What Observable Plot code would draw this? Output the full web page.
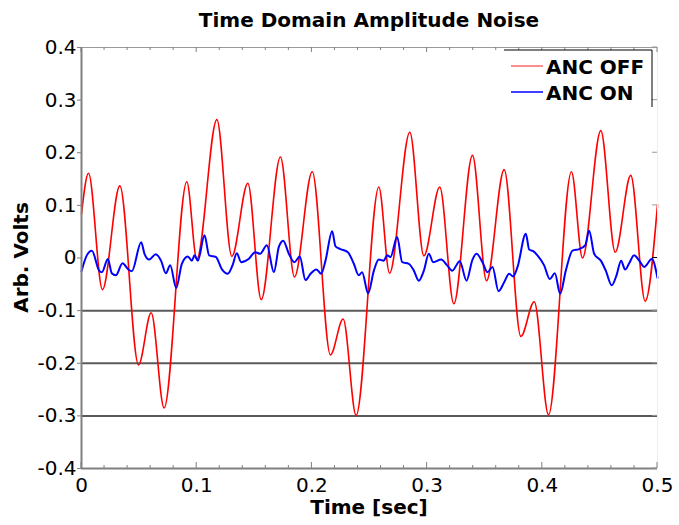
<!DOCTYPE html>
<html>
<head>
<meta charset="utf-8">
<script src="https://cdn.jsdelivr.net/npm/d3@7"></script>
<script src="https://cdn.jsdelivr.net/npm/@observablehq/plot@0.6"></script>
<style>
  body { margin: 0; background: #fff; }
  #chart { width: 679px; height: 525px; }
</style>
</head>
<body>
<div id="chart"></div>
<script>
// ---- data ----
const chartTitle = "Time Domain Amplitude Noise";
const xLabel = "Time [sec]";
const yLabel = "Arb. Volts";
const seriesNames = ["ANC OFF", "ANC ON"];
const seriesColors = ["#ff0000", "#0000ff"];

const offTime = [0, 0.0061, 0.0182, 0.0333, 0.0495, 0.0605, 0.0717, 0.0914, 0.1001, 0.1175,
  0.1305, 0.1444, 0.156, 0.1727, 0.1849, 0.2003, 0.2161, 0.2271, 0.2384, 0.2581,
  0.2674, 0.285, 0.2972, 0.311, 0.3232, 0.3394, 0.3516, 0.3669, 0.3814, 0.393,
  0.4054, 0.4253, 0.4349, 0.4508, 0.4633, 0.4768, 0.4893, 0.5];
const offVolts = [0.084, 0.161, -0.060, 0.137, -0.203, -0.104, -0.285, 0.145, -0.002, 0.263,
  0.003, 0.142, -0.079, 0.192, -0.036, 0.164, -0.184, -0.116, -0.299, 0.135,
  -0.029, 0.239, 0.004, 0.135, -0.087, 0.195, -0.043, 0.168, -0.149, -0.083,
  -0.298, 0.164, 0.000, 0.242, 0.011, 0.157, -0.082, 0.101];

const onTime = [0, 0.0046, 0.0090, 0.0153, 0.0177, 0.0229, 0.0263, 0.0298, 0.0356, 0.0408,
  0.0437, 0.0518, 0.0547, 0.0587, 0.0645, 0.0692, 0.0732, 0.0770, 0.0822, 0.0871,
  0.0923, 0.0958, 0.0981, 0.1010, 0.1068, 0.1108, 0.1166, 0.1218, 0.1270, 0.1311,
  0.1348, 0.1386, 0.1450, 0.1508, 0.1551, 0.1609, 0.1670, 0.1713, 0.1751, 0.1800,
  0.1849, 0.1895, 0.1944, 0.1988, 0.2040, 0.2081, 0.2118, 0.2176, 0.2205, 0.2248,
  0.2312, 0.2364, 0.2407, 0.2436, 0.2488, 0.2538, 0.2581, 0.2624, 0.2653, 0.2682,
  0.2740, 0.2784, 0.2842, 0.2885, 0.2928, 0.2972, 0.3015, 0.3053, 0.3122, 0.3174,
  0.3218, 0.3284, 0.3342, 0.3394, 0.3429, 0.3481, 0.3524, 0.3568, 0.3620, 0.3669,
  0.3712, 0.3747, 0.3785, 0.3857, 0.3886, 0.3921, 0.3958, 0.4016, 0.4065, 0.4109,
  0.4155, 0.4204, 0.4262, 0.4320, 0.4372, 0.4407, 0.4450, 0.4508, 0.4551, 0.4603,
  0.4644, 0.4684, 0.4719, 0.4754, 0.4797, 0.4841, 0.4884, 0.4951, 0.5];
const onVolts = [-0.025, 0.005, 0.014, -0.024, -0.027, -0.002, -0.029, -0.033, -0.010, -0.022,
  -0.025, 0.030, 0.008, -0.003, 0.007, -0.006, -0.029, -0.014, -0.057, -0.011,
  0.003, -0.005, 0.005, -0.005, 0.043, 0.005, 0.002, -0.021, -0.030, -0.014,
  0.009, -0.008, -0.002, 0.011, 0.008, 0.024, -0.027, 0.021, 0.033, 0.008,
  -0.008, 0.003, -0.042, -0.030, -0.022, -0.030, -0.005, 0.051, 0.022, 0.017,
  0.011, -0.011, -0.033, -0.027, -0.067, -0.024, -0.003, -0.005, 0.005, 0.002,
  0.040, -0.008, -0.011, -0.024, -0.043, -0.024, 0.008, -0.008, -0.003, -0.014,
  -0.024, -0.006, -0.043, -0.003, 0.008, -0.008, -0.027, -0.017, -0.063, -0.046,
  -0.030, -0.035, -0.017, 0.046, 0.016, 0.013, 0.005, -0.014, -0.040, -0.029,
  -0.068, -0.024, 0.014, 0.017, 0.024, 0.052, 0.008, -0.005, -0.024, -0.052,
  -0.033, -0.005, -0.022, -0.010, 0.005, -0.005, -0.017, -0.002, -0.038];

const xTicks = [0, 0.1, 0.2, 0.3, 0.4, 0.5];
const xMinorTicks = [0.02, 0.04, 0.06, 0.08, 0.12, 0.14, 0.16, 0.18, 0.22, 0.24, 0.26, 0.28,
  0.32, 0.34, 0.36, 0.38, 0.42, 0.44, 0.46, 0.48];
const yTicks = [-0.4, -0.3, -0.2, -0.1, 0, 0.1, 0.2, 0.3, 0.4];
const gridValues = [-0.1, -0.2, -0.3];
const xDomain = [0, 0.5];
const yDomain = [-0.4, 0.4];

// ---- build ----
const off = offTime.map((t, i) => ({t, v: offVolts[i]}));
const on = onTime.map((t, i) => ({t, v: onVolts[i]}));
const fmt = d => d === 0 ? "0" : d.toFixed(1);

const W = 679, H = 525, mL = 81, mR = 22, mT = 47, mB = 57;
const FONT = "'DejaVu Sans', sans-serif";

const chart = Plot.plot({
  width: W, height: H,
  marginLeft: mL, marginRight: mR, marginTop: mT, marginBottom: mB,
  style: {fontFamily: FONT, fontSize: "20px", background: "#fff", color: "#000", overflow: "visible"},
  x: {domain: xDomain},
  y: {domain: yDomain},
  marks: [
    Plot.ruleY(gridValues, {stroke: "#5a5a5a", strokeWidth: 2}),
    Plot.line(off, {x: "t", y: "v", stroke: seriesColors[0], strokeWidth: 1.6, curve: "monotone-x"}),
    Plot.line(on, {x: "t", y: "v", stroke: seriesColors[1], strokeWidth: 2, curve: "monotone-x"}),
    Plot.ruleY([yDomain[1]], {stroke: "#9a9a9a", strokeWidth: 1}),
    Plot.ruleX([xDomain[1]], {stroke: "#eeeeee", strokeWidth: 1}),
    Plot.ruleX([xDomain[0]], {stroke: "#808080", strokeWidth: 2}),
    Plot.ruleY([yDomain[0]], {stroke: "#808080", strokeWidth: 2}),
    Plot.axisY(yTicks, {tickFormat: fmt, tickSize: 4, tickPadding: 1, stroke: "#808080", fill: "#000", fontSize: 20, label: null}),
    Plot.axisX(xTicks, {tickFormat: fmt, tickSize: 0, tickPadding: 9, fill: "#000", fontSize: 20, label: null})
  ]
});

// inward ticks on bottom/top/right, computed with the plot's scales
const sx = chart.scale("x"), sy = chart.scale("y");
const svg = d3.select(chart);
const tg = svg.append("g").attr("stroke", "#808080").attr("stroke-width", 1);
const yb = sy.apply(yDomain[0]), yt = sy.apply(yDomain[1]);
xMinorTicks.forEach(v => {
  const px = sx.apply(v);
  tg.append("line").attr("x1", px).attr("x2", px).attr("y1", yb).attr("y2", yb - 3);
  tg.append("line").attr("x1", px).attr("x2", px).attr("y1", yt).attr("y2", yt + 3);
});
xTicks.forEach(v => {
  const px = sx.apply(v);
  tg.append("line").attr("x1", px).attr("x2", px).attr("y1", yb).attr("y2", yb - 6);
  tg.append("line").attr("x1", px).attr("x2", px).attr("y1", yt).attr("y2", yt + 5);
});
const xr = sx.apply(xDomain[1]);
yTicks.forEach(v => {
  const py = sy.apply(v);
  tg.append("line").attr("x1", xr).attr("x2", xr - 5).attr("y1", py).attr("y2", py)
    .attr("stroke", v === 0 ? "#000" : "#999");
});

// titles
const cx = (mL + W - mR) / 2;
svg.append("text").attr("x", cx).attr("y", 27).attr("text-anchor", "middle")
  .attr("font-family", FONT).attr("font-size", 20).attr("font-weight", "bold").attr("fill", "#000")
  .text(chartTitle);
svg.append("text").attr("x", cx).attr("y", 514).attr("text-anchor", "middle")
  .attr("font-family", FONT).attr("font-size", 20).attr("font-weight", "bold").attr("fill", "#000")
  .text(xLabel);
svg.append("text").attr("transform", `translate(28,${(mT + H - mB) / 2}) rotate(-90)`).attr("text-anchor", "middle")
  .attr("font-family", FONT).attr("font-size", 20).attr("font-weight", "bold").attr("fill", "#000")
  .text(yLabel);

// legend
const lg = svg.append("g");
lg.append("rect").attr("x", 504).attr("y", 50).attr("width", 148).attr("height", 57).attr("fill", "#fff");
lg.append("line").attr("x1", 504).attr("x2", 652).attr("y1", 50).attr("y2", 50).attr("stroke", "#000");
lg.append("line").attr("x1", 652).attr("x2", 652).attr("y1", 50).attr("y2", 107).attr("stroke", "#000");
seriesNames.forEach((name, i) => {
  const y = 66 + i * 26;
  lg.append("line").attr("x1", 511).attr("x2", 543).attr("y1", y).attr("y2", y)
    .attr("stroke", seriesColors[i]).attr("stroke-width", 1.5).attr("stroke-opacity", i === 0 ? 0.6 : 1);
  lg.append("text").attr("x", 546).attr("y", y + 8).attr("text-anchor", "start")
    .attr("font-family", FONT).attr("font-size", 20).attr("font-weight", "bold").attr("fill", "#000")
    .text(name);
});

document.getElementById("chart").appendChild(chart);
</script>
</body>
</html>
